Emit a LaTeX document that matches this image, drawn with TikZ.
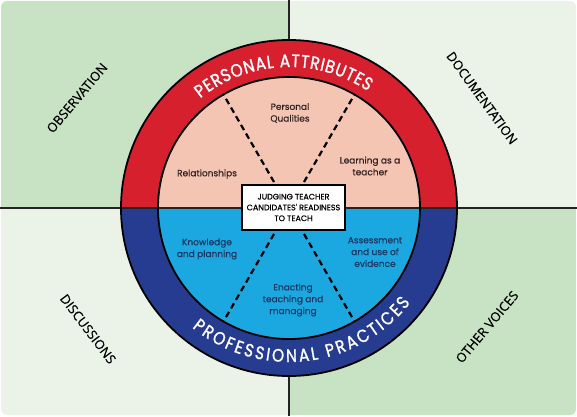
\documentclass[tikz,border=0pt]{standalone}
\usepackage{fontspec}
\setmainfont{Poppins}
\newfontfamily\labelfont[FakeBold=0.6]{Poppins}
\newfontfamily\cornerfont[FakeBold=0.4]{Open Sans}
\newfontfamily\ringfont[FakeStretch=0.86, FakeBold=1.2]{Poppins}
\usetikzlibrary{decorations.text}
\definecolor{qdark}{RGB}{200,226,196}
\definecolor{qlight}{RGB}{235,243,232}
\definecolor{ringred}{RGB}{214,32,46}
\definecolor{pinkin}{RGB}{245,197,180}
\definecolor{ringblue}{RGB}{38,60,145}
\definecolor{cyanin}{RGB}{27,168,224}
\definecolor{bluetext}{RGB}{25,55,100}
\definecolor{pinktext}{RGB}{50,35,35}
\definecolor{lineblack}{RGB}{35,35,35}

\begin{document}
\begin{tikzpicture}[x=1pt, y=1pt]
        \tikzstyle{divider} = [line width=2pt, draw=lineblack]
        \tikzstyle{rim} = [line width=1.8pt, draw=black]
        \tikzstyle{spoke} = [line width=2.2pt, dash pattern=on 6pt off 4pt, draw=black]
        \tikzstyle{pinklabel} = [align=center, text=pinktext, font=\labelfont\fontsize{9}{11.8}\selectfont]
        \tikzstyle{bluelabel} = [align=center, text=bluetext, font=\labelfont\fontsize{9}{11.8}\selectfont]
        \tikzstyle{corner} = [text=black, font=\cornerfont\fontsize{13}{15}\selectfont]
        \tikzstyle{centrebox} = [rectangle, draw=black, line width=2pt, fill=white, minimum width=103pt, minimum height=45pt, inner sep=2pt, align=center, font=\labelfont\fontsize{8}{10.8}\selectfont]

        \useasboundingbox (0,0) rectangle (577,416);
        \coordinate (C) at (289,208);
        \coordinate (W) at (0,208);
        \coordinate (E) at (577,208);
        \coordinate (N) at (289,416);
        \coordinate (S) at (289,0);

        \begin{scope}
            \clip[rounded corners=6pt] (1,1) rectangle (576,415);
            \fill[qdark] (0,208) rectangle (289,416);
            \fill[qlight] (289,208) rectangle (577,416);
            \fill[qlight] (0,0) rectangle (289,208);
            \fill[qdark] (289,0) rectangle (577,208);
        \end{scope}
        \draw[divider] (N) -- (S);

        \fill[ringred] (C) ++(168,0) arc[start angle=0, end angle=180, radius=168] -- cycle;
        \fill[ringblue] (C) ++(-168,0) arc[start angle=180, end angle=360, radius=168] -- cycle;
        \fill[pinkin] (C) ++(131,0) arc[start angle=0, end angle=180, radius=131] -- cycle;
        \fill[cyanin] (C) ++(-131,0) arc[start angle=180, end angle=360, radius=131] -- cycle;
        \draw[divider] (W) -- (E);
        \draw[rim] (C) circle[radius=168];
        \draw[rim] (C) circle[radius=131];

        \foreach \a in {60,120,240,300}
            \draw[spoke] (C) -- ++(\a:131);

        \path[decorate, decoration={text along path, text color=white, text align={fit to path},
            text={|\ringfont\fontsize{18}{18}\selectfont|PERSONAL ATTRIBUTES}}]
            (C) ++(129:141) arc[start angle=129, end angle=56, radius=141];
        \path[decorate, decoration={text along path, text color=white, text align={fit to path},
            text={|\ringfont\fontsize{18}{18}\selectfont|PROFESSIONAL PRACTICES}}]
            (C) ++(231:154) arc[start angle=231, end angle=322, radius=154];

        \node (judge) [centrebox] at (293.5,208.5) {JUDGING TEACHER\\CANDIDATES' READINESS\\TO TEACH};

        \node (qual) [pinklabel] at (290,303) {Personal\\Qualities};
        \node (rel) [pinklabel] at (207,242) {Relationships};
        \node (learn) [pinklabel] at (370,250) {Learning as a\\teacher};
        \node (know) [bluelabel] at (207,167) {Knowledge\\and planning};
        \node (assess) [bluelabel] at (375,164) {Assessment\\and use of\\evidence};
        \node (enact) [bluelabel] at (293,116) {Enacting\\teaching and\\managing};

        \node (obs) [corner, rotate=50] at (77,318) {OBSERVATION};
        \node (doc) [corner, rotate=-54] at (482,318) {DOCUMENTATION};
        \node (disc) [corner, rotate=-53] at (88,87) {DISCUSSIONS};
        \node (other) [corner, rotate=50] at (487,89) {OTHER VOICES};
    \end{tikzpicture}
\end{document}
